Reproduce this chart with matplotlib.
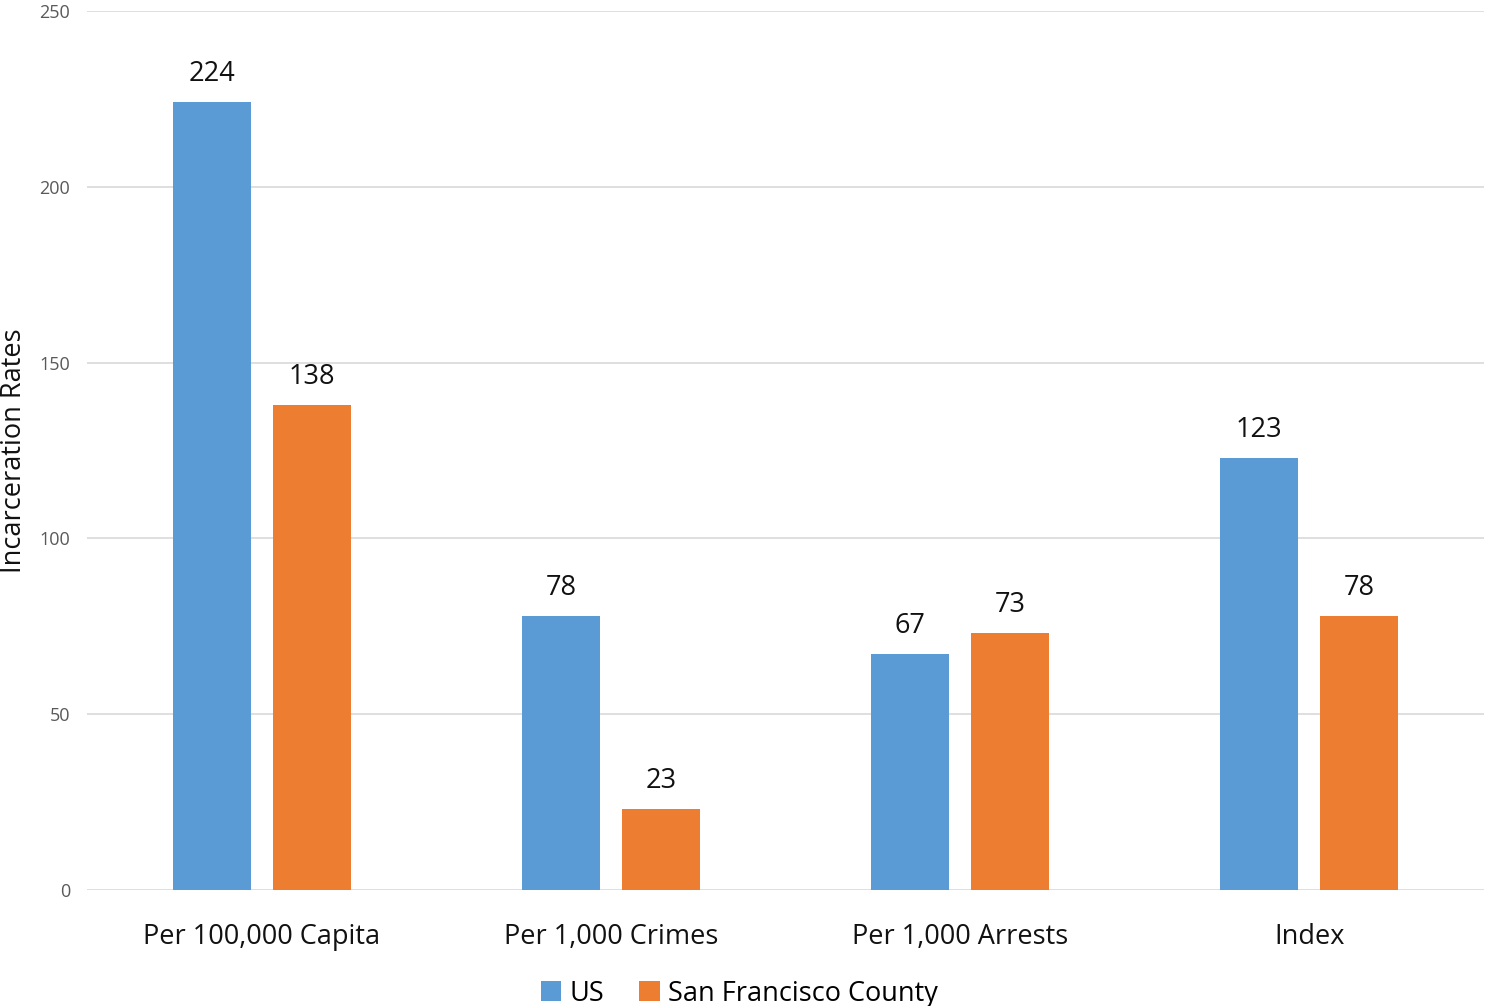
import numpy as np
import matplotlib
matplotlib.use("Agg")
import matplotlib.pyplot as plt

plt.rcParams['font.family'] = ['Open Sans', 'DejaVu Sans']

categories = ["Per 100,000 Capita", "Per 1,000 Crimes", "Per 1,000 Arrests", "Index"]
us = [224, 78, 67, 123]
sf = [138, 23, 73, 78]

blue = "#5B9BD5"
orange = "#ED7D31"

fig = plt.figure(figsize=(14.87, 10.06), dpi=100)
ax = fig.add_axes([0.0585, 0.1153, 0.9395, 0.8737])

x = np.arange(len(categories))
w = 0.2235
off = 0.1433
b1 = ax.bar(x - off, us, w, color=blue, label="US")
b2 = ax.bar(x + off, sf, w, color=orange, label="San Francisco County")

for bars, vals in ((b1, us), (b2, sf)):
    for b, v in zip(bars, vals):
        ax.text(b.get_x() + b.get_width() / 2, v + 4, str(v), ha="center", va="bottom",
                fontsize=19.5, color="#111111")

ax.set_xlim(-0.5, 3.5)
ax.set_ylim(0, 250)
ax.set_yticks([0, 50, 100, 150, 200, 250])
ax.grid(axis="y", color="#d9d9d9", linewidth=1.2)
ax.set_axisbelow(True)
for s in ax.spines.values():
    s.set_visible(False)
ax.tick_params(axis="y", length=0, labelsize=13, labelcolor="#595959", pad=12)
ax.tick_params(axis="x", length=0, labelsize=19.5, pad=24)
ax.set_xticks(x)
ax.set_xticklabels(categories, color="#111111")
ax.set_ylabel("Incarceration Rates", fontsize=19.5, color="#111111")
ax.yaxis.set_label_coords(-0.042, 0.5)

ax.legend(loc="lower center", bbox_to_anchor=(0.467, -0.146), ncol=2, frameon=False,
          fontsize=19.5, handlelength=0.75, handleheight=0.75, handletextpad=0.3, columnspacing=1.3,
          borderaxespad=0)

fig.savefig("out.png", dpi=100)
